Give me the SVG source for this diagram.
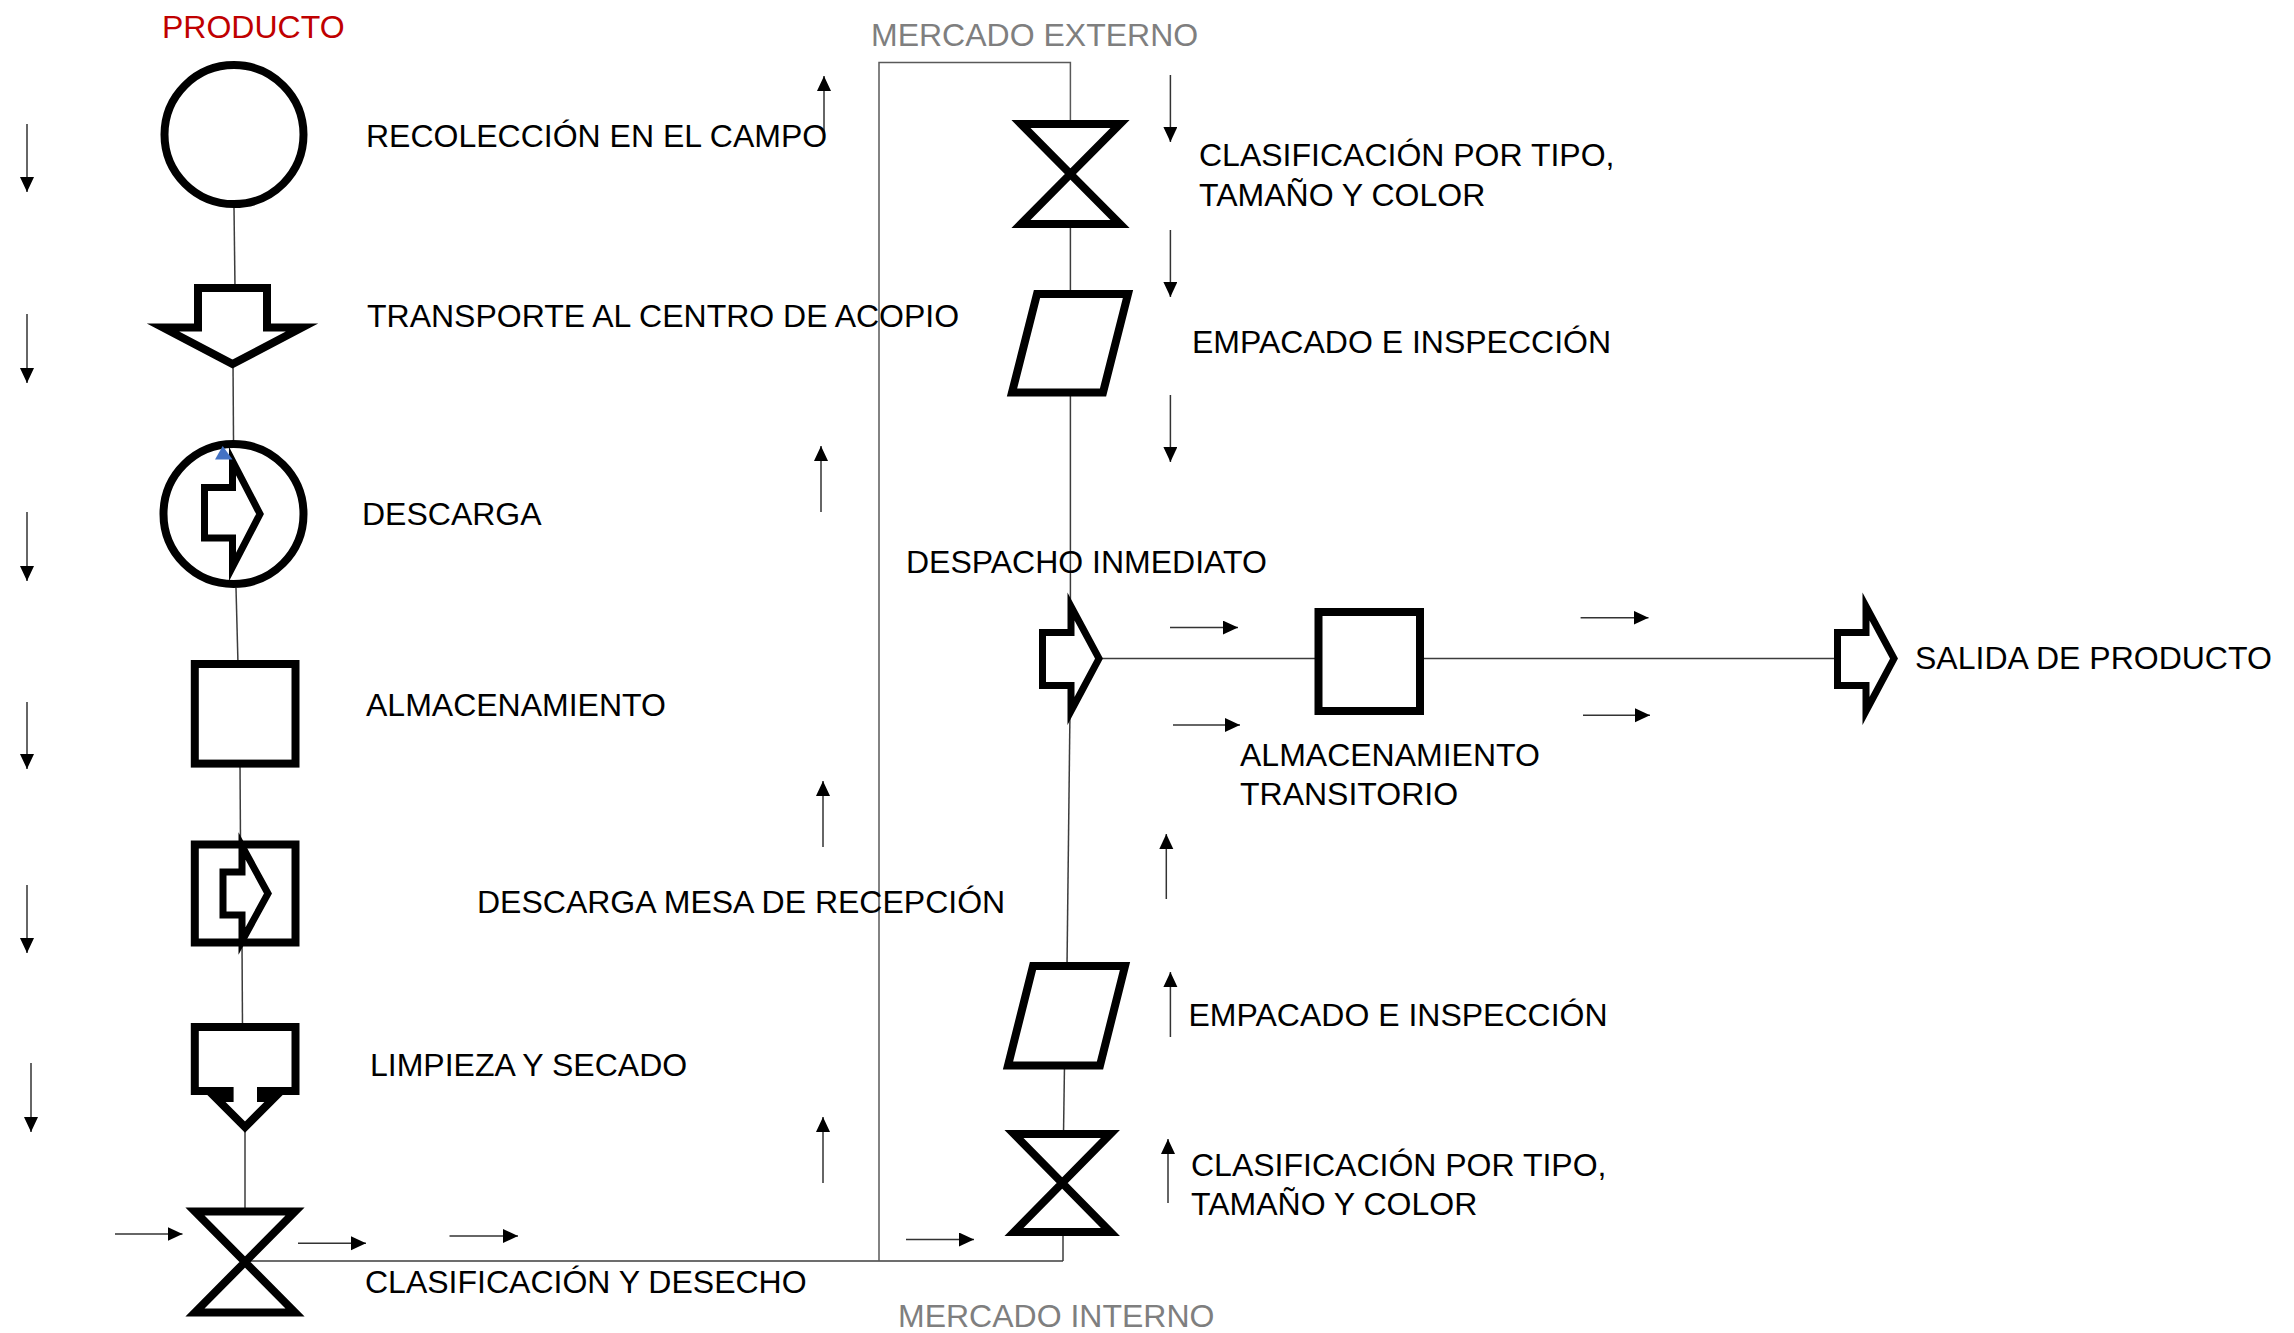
<svg xmlns="http://www.w3.org/2000/svg" width="2294" height="1333" viewBox="0 0 2294 1333">
<style>
.sh{fill:#fff;stroke:#000;stroke-width:8;stroke-linejoin:miter;stroke-miterlimit:10}
.in{fill:#fff;stroke:#000;stroke-width:7;stroke-linejoin:miter;stroke-miterlimit:10}
.ln{fill:none;stroke:#3c3c3c;stroke-width:1.5}
.bx{fill:none;stroke:#595959;stroke-width:1.5}
.ar{fill:none;stroke:#333;stroke-width:1.5;marker-end:url(#ah)}
text{font-family:"Liberation Sans",Arial,sans-serif;font-size:32px;fill:#000}
.gr{fill:#7f7f7f}
.rd{fill:#c00000}
</style>
<defs>
<marker id="ah" markerUnits="userSpaceOnUse" markerWidth="16" markerHeight="15" refX="15" refY="7" orient="auto">
<path d="M0,0 L15,7 L0,14 Z" fill="#000"/>
</marker>
</defs>
<rect width="2294" height="1333" fill="#fff"/>

<g id="connectors">
<path class="ln" d="M234,208 L235,288"/>
<path class="ln" d="M233,362 L233.5,440"/>
<path class="ln" d="M236,588 L238,664"/>
<path class="ln" d="M240,764 L240.5,844"/>
<path class="ln" d="M242,942 L242.5,1027"/>
<path class="ln" d="M245,1128 L245,1212"/>
<path class="ln" d="M245,1261 L1063,1261"/>
<path class="ln" d="M1063,1232 L1063,1261"/>
<path class="ln" d="M1063.5,1134 L1064.5,1065"/>
<path class="ln" d="M1067,966 L1070,710"/>
<path class="ln" d="M1070.4,607 L1070.4,393"/>
<path class="ln" d="M1070.4,294 L1070.4,224"/>
<path class="bx" d="M1070.4,124 L1070.4,62.5 L879,62.5 L879,1261"/>
<path class="ln" d="M1099,658.6 L1318,658.6"/>
<path class="ln" d="M1420,658.6 L1837,658.6"/>
</g>

<g id="flow-arrows">
<path class="ar" d="M27,124 L27,192"/>
<path class="ar" d="M27,314 L27,383"/>
<path class="ar" d="M27,512 L27,581"/>
<path class="ar" d="M27,702 L27,769"/>
<path class="ar" d="M27,885 L27,953"/>
<path class="ar" d="M31,1063 L31,1132"/>
<path class="ar" d="M824,132 L824,76"/>
<path class="ar" d="M821,512 L821,446"/>
<path class="ar" d="M823,847 L823,781"/>
<path class="ar" d="M823,1183 L823,1117"/>
<path class="ar" d="M1170.4,75 L1170.4,142"/>
<path class="ar" d="M1170.4,230 L1170.4,297"/>
<path class="ar" d="M1170.4,395 L1170.4,462"/>
<path class="ar" d="M1166.3,899 L1166.3,834"/>
<path class="ar" d="M1170.4,1037 L1170.4,972"/>
<path class="ar" d="M1168,1203 L1168,1139"/>
<path class="ar" d="M115,1234 L182.5,1234"/>
<path class="ar" d="M298,1243.3 L366,1243.3"/>
<path class="ar" d="M449.5,1236 L518,1236"/>
<path class="ar" d="M906,1239.5 L974,1239.5"/>
<path class="ar" d="M1170,627.6 L1238,627.6"/>
<path class="ar" d="M1173,725 L1240,725"/>
<path class="ar" d="M1580.6,617.7 L1648.5,617.7"/>
<path class="ar" d="M1583,715.3 L1650,715.3"/>
</g>

<g id="title">
<text class="rd" x="162" y="37.5">PRODUCTO</text>
</g>

<g id="recoleccion">
<circle class="sh" cx="234" cy="134.6" r="69.5"/>
<text x="366" y="147">RECOLECCIÓN EN EL CAMPO</text>
</g>

<g id="transporte">
<polygon class="sh" points="198,288 267,288 267,327.5 302,327.5 232.5,364 163,327.5 198,327.5"/>
<text x="367" y="326.5">TRANSPORTE AL CENTRO DE ACOPIO</text>
</g>

<g id="descarga">
<circle class="sh" cx="233.5" cy="514" r="70"/>
<polygon class="in" points="204.5,487.5 232.5,487.5 232.5,461 260,514 232.5,567 232.5,538 204.5,538"/>
<polygon points="222.7,446 215,459.5 232.5,459.5" fill="#4472c4"/>
<text x="362" y="525">DESCARGA</text>
</g>

<g id="almacenamiento">
<rect class="sh" x="194.8" y="664" width="100.7" height="99.6"/>
<text x="366" y="716">ALMACENAMIENTO</text>
</g>

<g id="descarga-mesa">
<rect class="sh" x="194.8" y="844.5" width="100.7" height="98"/>
<polygon class="in" points="223,872 242,872 242,846 268,893.5 242,941 242,915 223,915"/>
<text x="477" y="913">DESCARGA MESA DE RECEPCIÓN</text>
</g>

<g id="limpieza">
<polygon class="sh" points="194.8,1027 295.5,1027 295.5,1091 261,1091 261,1098 274,1098 245,1127 216,1098 229.6,1098 229.6,1091 194.8,1091"/>
<text x="370" y="1076">LIMPIEZA Y SECADO</text>
</g>

<g id="clasificacion-desecho">
<polygon class="sh" points="195,1211.6 295,1211.6 245,1262 295,1312.4 195,1312.4 245,1262"/>
<text x="365" y="1293">CLASIFICACIÓN Y DESECHO</text>
</g>

<g id="mercado-externo">
<text class="gr" x="871" y="45.5">MERCADO EXTERNO</text>
</g>

<g id="clasificacion-externo">
<polygon class="sh" points="1021,124 1120,124 1070.4,174 1120,224 1021,224 1070.4,174"/>
<text x="1199" y="166">CLASIFICACIÓN POR TIPO,</text>
<text x="1199" y="206">TAMAÑO Y COLOR</text>
</g>

<g id="empacado-externo">
<polygon class="sh" points="1037,294 1128,294 1103,392.6 1012,392.6"/>
<text x="1192" y="353">EMPACADO E INSPECCIÓN</text>
</g>

<g id="despacho">
<polygon class="in" points="1042.5,632.5 1071,632.5 1071,606.5 1099,658.6 1071,711 1071,685.5 1042.5,685.5"/>
<text x="906" y="573">DESPACHO INMEDIATO</text>
</g>

<g id="almacenamiento-transitorio">
<rect class="sh" x="1318.5" y="612" width="101.5" height="99"/>
<text x="1240" y="766">ALMACENAMIENTO</text>
<text x="1240" y="805">TRANSITORIO</text>
</g>

<g id="salida">
<polygon class="in" points="1837.5,632.5 1866,632.5 1866,606.5 1894,658.6 1866,711 1866,685.5 1837.5,685.5"/>
<text x="1915" y="669">SALIDA DE PRODUCTO</text>
</g>

<g id="empacado-interno">
<polygon class="sh" points="1033,966 1125,966 1100,1065.5 1008,1065.5"/>
<text x="1188.5" y="1026">EMPACADO E INSPECCIÓN</text>
</g>

<g id="clasificacion-interno">
<polygon class="sh" points="1014,1134 1110.4,1134 1062.2,1183 1110.4,1232 1014,1232 1062.2,1183"/>
<text x="1191" y="1176">CLASIFICACIÓN POR TIPO,</text>
<text x="1191" y="1215">TAMAÑO Y COLOR</text>
</g>

<g id="mercado-interno">
<text class="gr" x="898" y="1327">MERCADO INTERNO</text>
</g>
</svg>
